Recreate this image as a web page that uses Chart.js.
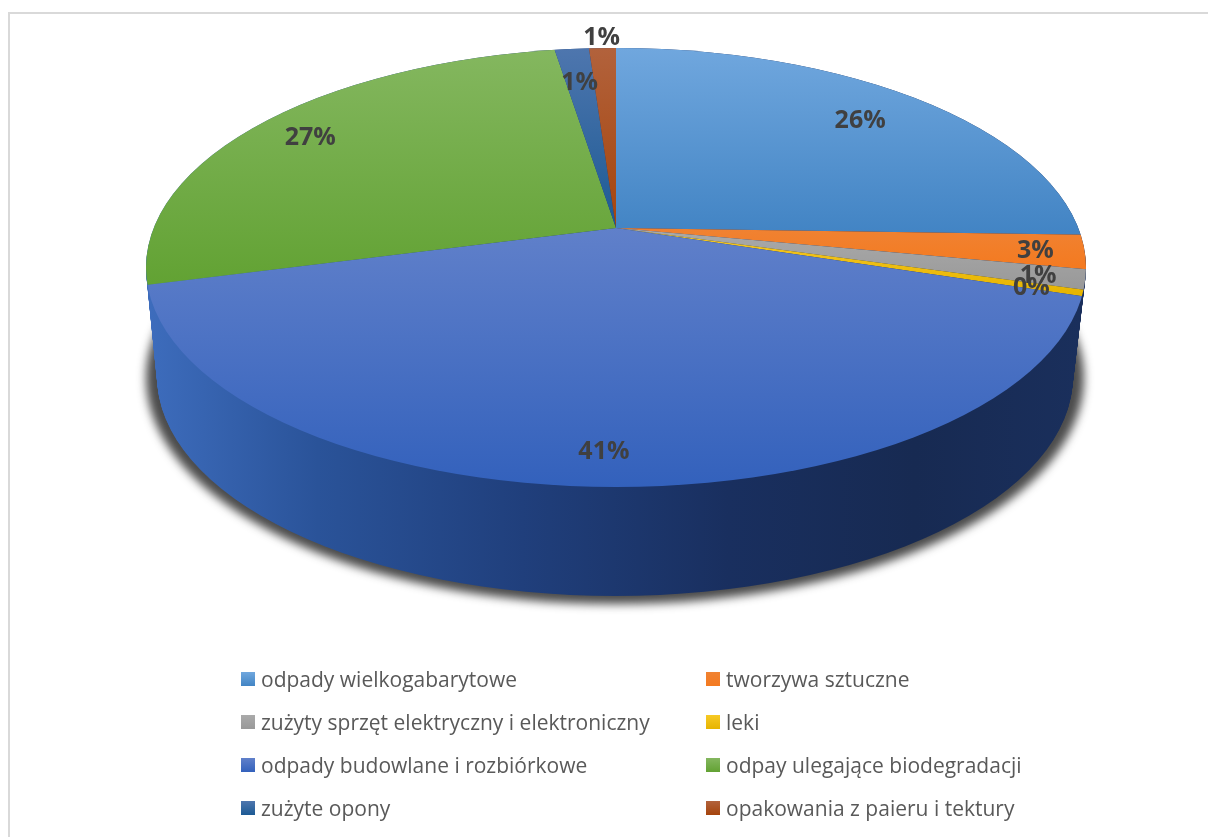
<!DOCTYPE html>
<html lang="pl">
<head>
<meta charset="utf-8">
<title>Odpady</title>
<script src="https://cdn.jsdelivr.net/npm/chart.js@4/dist/chart.umd.min.js"></script>
<style>
  html, body { margin: 0; height: 100%; background: #fff; overflow: hidden; }
  #frame { position: absolute; left: 8px; top: 12px; right: 0; bottom: 0; border-top: 2px solid #d9d9d9; border-left: 2px solid #d9d9d9; }
  #pie { position: absolute; left: 0; top: 0; }
  #legend { position: absolute; left: 241px; top: 657px; display: grid; grid-template-columns: 465px 460px; grid-auto-rows: 43px; font: 21px "Open Sans", sans-serif; color: #595959; }
  #legend div { display: flex; align-items: center; white-space: nowrap; }
  #legend i { width: 14px; height: 14px; margin-right: 6px; flex: none; }
</style>
</head>
<body>
<div id="frame"></div>
<canvas id="pie" width="1208" height="837"></canvas>
<div id="legend"></div>
<script>
const categories = [
  'odpady wielkogabarytowe',
  'tworzywa sztuczne',
  'zużyty sprzęt elektryczny i elektroniczny',
  'leki',
  'odpady budowlane i rozbiórkowe',
  'odpay ulegające biodegradacji',
  'zużyte opony',
  'opakowania z paieru i tektury',
];
const shares = [25.5, 2.5, 1.45, 0.45, 41.0, 26.6, 1.4, 1.1];
const topColors = ['#70a7de', '#f08232', '#aaaaaa', '#f7c925', '#6080ca', '#84b75f', '#4e76ae', '#b2623c'];
const bottomColors = ['#4284c4', '#f47a20', '#999999', '#e6b400', '#3361bc', '#62a233', '#1c5a94', '#a5440c'];
const labelRadius = [340, 422, 434, 434, 482, 365, 322, 418];

// the "3d" look: ellipse of the lid, ellipse of the foot, and the point the slices meet in
const lid = { x: 616, y: 267.5, rx: 470, ry: 219.5 };
const foot = { x: 615, y: 376, rx: 458, ry: 220 };
const apex = { x: 616, y: 228 };
const tilt = 0.46;
const reach = 620;

function ellipsePath(ctx, e) {
  ctx.beginPath();
  ctx.ellipse(e.x, e.y, e.rx, e.ry, 0, 0, Math.PI * 2);
}

// y range of the lid's rim inside one slice, so each slice gets its own gradient
function sliceRange(arc) {
  let top = apex.y, bottom = apex.y;
  for (let t = 0; t < 720; t++) {
    const a = t * Math.PI / 360;
    const px = lid.x + lid.rx * Math.cos(a), py = lid.y + lid.ry * Math.sin(a);
    let angle = Math.atan2((py - apex.y) / tilt, px - apex.x);
    while (angle < arc.startAngle) angle += Math.PI * 2;
    if (angle <= arc.endAngle) {
      top = Math.min(top, py);
      bottom = Math.max(bottom, py);
    }
  }
  return [top, bottom];
}

const pie3d = {
  id: 'pie3d',
  beforeDatasetsDraw(chart) {
    const ctx = chart.ctx;
    const arcs = chart.getDatasetMeta(0).data;
    const R = arcs[0].outerRadius, cx = arcs[0].x, cy = arcs[0].y;
    const sx = reach / R, sy = reach * tilt / R;
    const toScreen = () => {
      ctx.translate(apex.x, apex.y);
      ctx.scale(sx, sy);
      ctx.translate(-cx, -cy);
    };
    const paint = (arc, fill) => {
      const saved = arc.options;
      arc.options = Object.assign({}, saved, { backgroundColor: fill });
      arc.draw(ctx);
      arc.options = saved;
    };

    // soft shadow under the foot
    ctx.save();
    ctx.filter = 'blur(5px)';
    ctx.fillStyle = 'rgba(30,30,30,0.8)';
    ellipsePath(ctx, { x: foot.x, y: foot.y + 2, rx: foot.rx + 11, ry: foot.ry + 6 });
    ctx.fill();
    ctx.restore();

    // side wall, stacked from the foot up to the lid
    const wall = ctx.createLinearGradient(cx + (150 - apex.x) / sx, 0, cx + (1082 - apex.x) / sx, 0);
    wall.addColorStop(0, '#3d6cbc');
    wall.addColorStop(0.18, '#2a5399');
    wall.addColorStop(0.4, '#203f7c');
    wall.addColorStop(0.62, '#192f5f');
    wall.addColorStop(0.82, '#172a52');
    wall.addColorStop(1, '#1a2f5c');
    const steps = foot.y - lid.y;
    for (let i = Math.ceil(steps); i >= 0; i--) {
      const f = i / steps;
      ctx.save();
      ellipsePath(ctx, {
        x: lid.x + (foot.x - lid.x) * f,
        y: lid.y + (foot.y - lid.y) * f,
        rx: lid.rx + (foot.rx - lid.rx) * f,
        ry: lid.ry,
      });
      ctx.clip();
      ctx.translate(0, i);
      toScreen();
      arcs.forEach((arc) => paint(arc, wall));
      ctx.restore();
    }

    // lid
    ctx.save();
    ellipsePath(ctx, lid);
    ctx.clip();
    toScreen();
    arcs.forEach((arc, i) => {
      const [top, bottom] = sliceRange(arc);
      const g = ctx.createLinearGradient(0, cy + (top - apex.y) / sy, 0, cy + (bottom - apex.y) / sy);
      g.addColorStop(0, topColors[i]);
      g.addColorStop(1, bottomColors[i]);
      paint(arc, g);
    });
    ctx.restore();
    return false;
  },
  afterDraw(chart) {
    const ctx = chart.ctx;
    const total = shares.reduce((a, b) => a + b, 0);
    ctx.save();
    ctx.font = 'bold 25px "Open Sans", sans-serif';
    ctx.fillStyle = '#404040';
    ctx.textAlign = 'center';
    ctx.textBaseline = 'middle';
    chart.getDatasetMeta(0).data.forEach((arc, i) => {
      const mid = (arc.startAngle + arc.endAngle) / 2;
      const x = apex.x + labelRadius[i] * Math.cos(mid);
      const y = apex.y + 2 + labelRadius[i] * tilt * Math.sin(mid);
      ctx.fillText(Math.round(shares[i] / total * 100) + '%', x, y);
    });
    ctx.restore();
  },
};

new Chart(document.getElementById('pie'), {
  type: 'pie',
  data: {
    labels: categories,
    datasets: [{ data: shares, backgroundColor: bottomColors, borderWidth: 0 }],
  },
  options: {
    responsive: false,
    animation: false,
    plugins: { legend: { display: false }, tooltip: { enabled: false } },
  },
  plugins: [pie3d],
});

const legend = document.getElementById('legend');
categories.forEach((name, i) => {
  const item = document.createElement('div');
  const swatch = document.createElement('i');
  swatch.style.background = `linear-gradient(${topColors[i]}, ${bottomColors[i]})`;
  item.append(swatch, name);
  legend.append(item);
});
</script>
</body>
</html>
